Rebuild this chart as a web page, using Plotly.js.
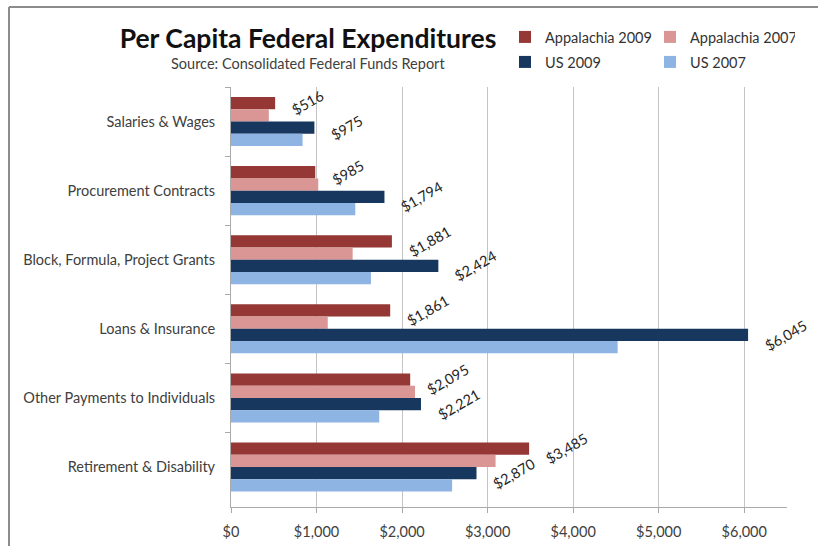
<!DOCTYPE html>
<html>
<head>
<meta charset="utf-8">
<script src="https://cdn.plot.ly/plotly-3.0.1.min.js"></script>
<style>html,body{margin:0;padding:0;background:#fff;}#chart{width:818px;height:546px;}</style>
</head>
<body>
<div id="chart"></div>
<script>
const categories = ['Salaries & Wages','Procurement Contracts','Block, Formula, Project Grants','Loans & Insurance','Other Payments to Individuals','Retirement & Disability'];
const appalachia2009 = [516, 985, 1881, 1861, 2095, 3485];
const appalachia2007 = [442, 1020, 1422, 1131, 2151, 3093];
const us2009 = [975, 1794, 2424, 6045, 2221, 2870];
const us2007 = [837, 1453, 1636, 4520, 1733, 2585];
const seriesNames = ['Appalachia 2009','Appalachia 2007','US 2009','US 2007'];
const xTicks = [0, 1000, 2000, 3000, 4000, 5000, 6000];

const colors = ['#953735','#D99694','#17375E','#8DB4E2'];
const FONT = 'Lato, "Open Sans", sans-serif';
const FS = 14.5;
const W = 818, H = 546;
const margin = {l: 231, r: 31, t: 87, b: 39, autoexpand: false};
const plotW = W - margin.l - margin.r, plotH = H - margin.t - margin.b;
const bargap = 0.29;
const allSeries = [appalachia2009, appalachia2007, us2009, us2007];

const traces = allSeries.map((vals, i) => ({
  type: 'bar', orientation: 'h', name: seriesNames[i],
  x: vals, y: categories,
  marker: {color: colors[i]},
  legend: i < 2 ? 'legend' : 'legend2',
  hoverinfo: 'x+name'
}));

// data labels for Appalachia 2009 (index 0) and US 2009 (index 2)
const catPx = plotH / categories.length;
const barPx = catPx * (1 - bargap) / allSeries.length;
const annotations = [];
[0, 2].forEach(si => {
  const shift = (1.5 - si) * barPx;
  allSeries[si].forEach((v, ci) => {
    annotations.push({
      x: v, y: categories[ci], xref: 'x', yref: 'y',
      text: '$' + v.toLocaleString('en-US'),
      showarrow: false, textangle: -30,
      xanchor: 'left', yanchor: 'middle',
      xshift: 11, yshift: shift,
      font: {family: FONT, size: FS, color: '#262626'}
    });
  });
});
const px2x = p => (p - margin.l) / plotW;
const px2y = p => (H - margin.b - p) / plotH;
annotations.push({
  xref: 'paper', yref: 'paper', x: px2x(308), y: px2y(64),
  text: 'Source: Consolidated Federal Funds Report', showarrow: false,
  xanchor: 'center', yanchor: 'middle',
  font: {family: FONT, size: FS, color: '#404040'}
});

const legendBase = {
  orientation: 'h', xanchor: 'left', yanchor: 'middle',
  entrywidth: 100, entrywidthmode: 'pixels', bgcolor: 'rgba(0,0,0,0)',
  font: {family: FONT, size: FS, color: '#333333'}
};

const layout = {
  width: W, height: H, margin: margin,
  paper_bgcolor: '#ffffff', plot_bgcolor: '#ffffff',
  font: {family: FONT, size: FS, color: '#404040'},
  barmode: 'group', bargap: bargap, bargroupgap: 0,
  title: {
    text: '<b>Per Capita Federal Expenditures</b>',
    xref: 'container', yref: 'container', x: 308 / W, y: 1 - 39 / H,
    xanchor: 'center', yanchor: 'middle',
    font: {family: FONT, size: 26.5, color: '#111111'}
  },
  xaxis: {
    range: [0, 6500], tickvals: xTicks, tickformat: '$,.0f',
    showgrid: true, gridcolor: '#C4C4C4', gridwidth: 1,
    showline: true, linecolor: '#AAAAAA', linewidth: 1,
    ticks: 'outside', ticklen: 5, tickcolor: '#AAAAAA',
    ticklabelstandoff: 7,
    zeroline: false, fixedrange: true,
    tickfont: {family: FONT, size: FS, color: '#404040'}
  },
  yaxis: {
    type: 'category', autorange: 'reversed',
    showgrid: false, showline: true, linecolor: '#AAAAAA', linewidth: 1,
    ticks: 'outside', tickson: 'boundaries', ticklen: 5, tickcolor: '#AAAAAA',
    ticklabelstandoff: 12, fixedrange: true,
    tickfont: {family: FONT, size: FS, color: '#404040'}
  },
  legend: Object.assign({x: px2x(505), y: px2y(37)}, legendBase),
  legend2: Object.assign({x: px2x(505), y: px2y(62)}, legendBase),
  annotations: annotations,
  shapes: [
    {type: 'line', xref: 'paper', yref: 'paper', x0: px2x(9), x1: px2x(9), y0: px2y(7), y1: px2y(560),
     line: {color: '#8C8C8C', width: 2}},
    {type: 'line', xref: 'paper', yref: 'paper', x0: px2x(9), x1: px2x(830), y0: px2y(7), y1: px2y(7),
     line: {color: '#8C8C8C', width: 2}}
  ]
};

Plotly.newPlot('chart', traces, layout, {displayModeBar: false, responsive: false});
</script>
</body>
</html>
